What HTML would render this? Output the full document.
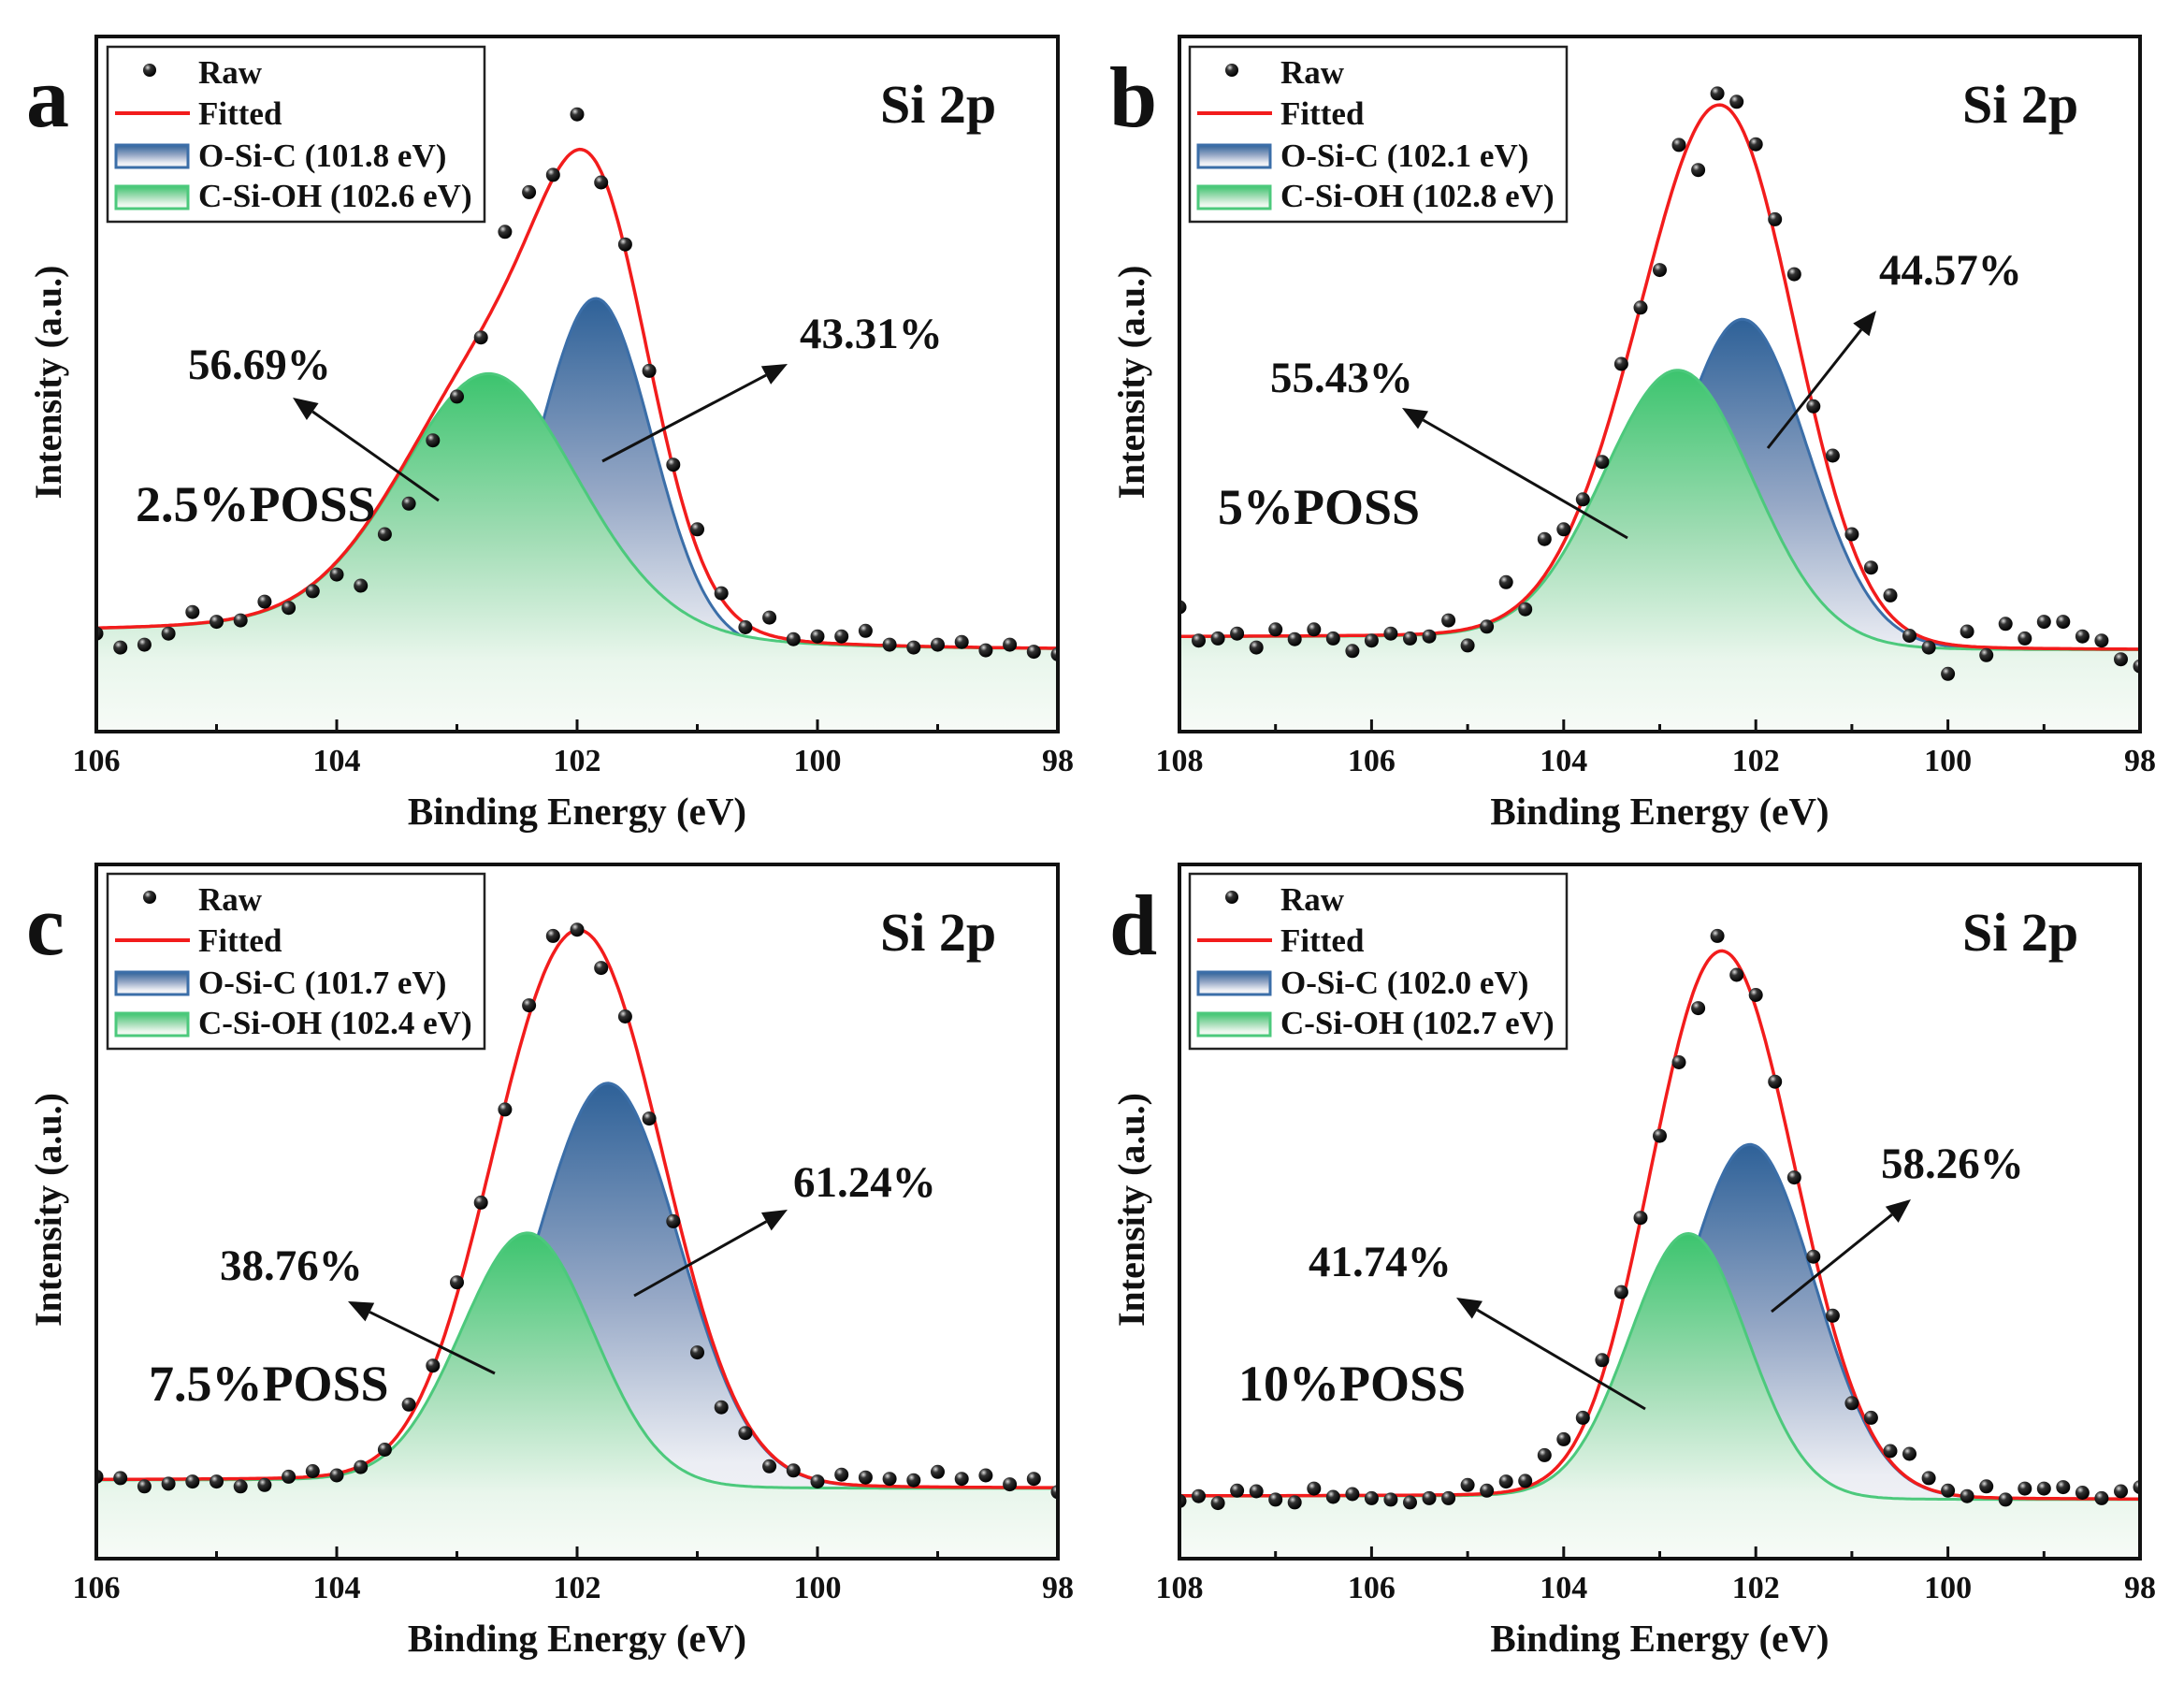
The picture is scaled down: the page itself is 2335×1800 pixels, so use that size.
<!DOCTYPE html>
<html><head><meta charset="utf-8"><style>
html,body{margin:0;padding:0;background:#fff}
svg{display:block}
text{font-family:"Liberation Serif",serif;font-weight:bold;fill:#111}
</style></head><body>
<svg id="fig" width="2335" height="1800" viewBox="0 0 2335 1800" xmlns="http://www.w3.org/2000/svg">
<defs>
<linearGradient id="gGreen" x1="0" y1="0" x2="0" y2="1"><stop offset="0" stop-color="#3cc46e"/><stop offset="0.45" stop-color="#9fdcb3"/><stop offset="0.8" stop-color="#e9f6ec"/><stop offset="1" stop-color="#f7fbf7"/></linearGradient>
<linearGradient id="gBlue" x1="0" y1="0" x2="0" y2="1"><stop offset="0" stop-color="#2e6198"/><stop offset="0.45" stop-color="#96a8c6"/><stop offset="0.8" stop-color="#eceef4"/><stop offset="1" stop-color="#f5f5f8"/></linearGradient>
<radialGradient id="gDot" cx="0.35" cy="0.3" r="0.7"><stop offset="0" stop-color="#ddd"/><stop offset="0.35" stop-color="#333"/><stop offset="1" stop-color="#000"/></radialGradient>
</defs>
<g id="panels"></g>
</svg>
<script>
// ---- data (intensity as % of plot height, energies in eV) ----
const energiesA = [106,105.8,105.6,105.4,105.2,105,104.8,104.6,104.4,104.2,104,103.8,103.6,103.4,103.2,103,102.8,102.6,102.4,102.2,102,101.8,101.6,101.4,101.2,101,100.8,100.6,100.4,100.2,100,99.8,99.6,99.4,99.2,99,98.8,98.6,98.4,98.2,98];
const rawA = [14.1,12.1,12.5,14.1,17.2,15.8,16.0,18.7,17.8,20.2,22.6,21.0,28.4,32.8,41.9,48.2,56.7,71.9,77.6,80.1,88.8,79.0,70.1,51.9,38.4,29.1,19.9,15.0,16.4,13.3,13.7,13.7,14.5,12.5,12.1,12.5,12.9,11.7,12.5,11.5,11.1];
const energiesB = [108,107.8,107.6,107.4,107.2,107,106.8,106.6,106.4,106.2,106,105.8,105.6,105.4,105.2,105,104.8,104.6,104.4,104.2,104,103.8,103.6,103.4,103.2,103,102.8,102.6,102.4,102.2,102,101.8,101.6,101.4,101.2,101,100.8,100.6,100.4,100.2,100,99.8,99.6,99.4,99.2,99,98.8,98.6,98.4,98.2,98];
const rawB = [17.9,13.1,13.4,14.1,12.1,14.7,13.3,14.7,13.4,11.6,13.1,14.1,13.4,13.7,16.0,12.4,15.1,21.5,17.6,27.7,29.1,33.4,38.8,52.9,61.0,66.4,84.4,80.8,91.8,90.6,84.5,73.7,65.8,46.8,39.7,28.4,23.6,19.6,13.8,12.1,8.3,14.4,11.0,15.5,13.4,15.8,15.8,13.7,13.1,10.4,9.4];
const energiesC = energiesA;
const rawC = [11.8,11.6,10.4,10.8,11.1,11.1,10.4,10.6,11.8,12.6,12.0,13.2,15.7,22.2,27.8,39.8,51.3,64.7,79.7,89.7,90.6,85.1,78.1,63.4,48.6,29.7,21.8,18.1,13.3,12.7,11.1,12.1,11.7,11.5,11.3,12.5,11.5,12.0,10.7,11.5,9.6];
const energiesD = energiesB;
const rawD = [8.3,9.0,8.0,9.8,9.7,8.5,8.1,10.1,8.9,9.3,8.7,8.5,8.1,8.7,8.7,10.6,9.8,11.1,11.2,14.9,17.2,20.3,28.6,38.4,49.1,60.9,71.5,79.3,89.7,84.1,81.2,68.7,54.9,43.5,35.0,22.4,20.3,15.5,15.1,11.6,9.8,9.0,10.4,8.5,10.1,10.1,10.3,9.5,8.7,9.7,10.3];
// fit components: [O-Si-C, C-Si-OH]
const centersA = [101.84, 102.72], heightsA = [50, 38], fwhmA = [1.1, 1.8], etaA = [0.05, 0.25], bgA = [14.2, 11.6];
const centersB = [102.13, 102.8], heightsB = [47, 39], fwhmB = [1.6, 1.85], etaB = [0.05, 0.05], bgB = [13.6, 11.7];
const centersC = [101.74, 102.41], heightsC = [58, 36], fwhmC = [1.4, 1.3], etaC = [0.05, 0.03], bgC = [11.3, 10.1];
const centersD = [102.06, 102.7], heightsD = [51, 38], fwhmD = [1.6, 1.45], etaD = [0.04, 0.02], bgD = [9.0, 8.5];
const ticksAC = [106,104,102,100,98];
const ticksBD = [108,106,104,102,100,98];

const panels = [
 {id:'a', L:103, R:1131, T:39, B:782, xl:106, xr:98, E:energiesA, raw:rawA, c:centersA, h:heightsA, w:fwhmA, eta:etaA, bg:bgA, ticks:ticksAC},
 {id:'b', L:1261, R:2288, T:39, B:782, xl:108, xr:98, E:energiesB, raw:rawB, c:centersB, h:heightsB, w:fwhmB, eta:etaB, bg:bgB, ticks:ticksBD},
 {id:'c', L:103, R:1131, T:924, B:1666, xl:106, xr:98, E:energiesC, raw:rawC, c:centersC, h:heightsC, w:fwhmC, eta:etaC, bg:bgC, ticks:ticksAC},
 {id:'d', L:1261, R:2288, T:924, B:1666, xl:108, xr:98, E:energiesD, raw:rawD, c:centersD, h:heightsD, w:fwhmD, eta:etaD, bg:bgD, ticks:ticksBD}
];
const texts = {
 a:{leg:[115,50], pct:[['56.69%',201,405],['43.31%',855,372]], arrows:[[469,535,313,425],[644,493,842,389]], poss:['2.5%POSS',145,557]},
 b:{leg:[1272,50], pct:[['55.43%',1358,419],['44.57%',2009,304]], arrows:[[1740,575,1499,436],[1890,479,2006,332]], poss:['5%POSS',1302,560]},
 c:{leg:[115,934], pct:[['38.76%',235,1368],['61.24%',848,1279]], arrows:[[529,1468,372,1391],[678,1385,842,1293]], poss:['7.5%POSS',159,1497]},
 d:{leg:[1272,934], pct:[['41.74%',1399,1364],['58.26%',2011,1259]], arrows:[[1759,1506,1557,1387],[1894,1402,2043,1282]], poss:['10%POSS',1324,1497]}
};
const legLabels = {a:['O-Si-C (101.8 eV)','C-Si-OH (102.6 eV)'], b:['O-Si-C (102.1 eV)','C-Si-OH (102.8 eV)'], c:['O-Si-C (101.7 eV)','C-Si-OH (102.4 eV)'], d:['O-Si-C (102.0 eV)','C-Si-OH (102.7 eV)']};

const NS='http://www.w3.org/2000/svg';
function mk(tag, attrs, parent){const e=document.createElementNS(NS,tag);for(const k in attrs)e.setAttribute(k,attrs[k]);if(parent)parent.appendChild(e);return e;}
function comp(E,c,h,w,eta){const g=Math.exp(-4*Math.LN2*((E-c)/w)**2);const l=1/(1+4*((E-c)/w)**2);return h*((1-eta)*g+eta*l);}
function bgv(p,E){const c=(p.c[0]+p.c[1])/2;return p.bg[1]+(p.bg[0]-p.bg[1])/(1+Math.exp(-(E-c)/0.45));}

const root=document.getElementById('panels');
panels.forEach(p=>{
 const g=mk('g',{},root);
 
 
 const xs=E=>p.L+(p.xl-E)/(p.xl-p.xr)*(p.R-p.L);
 const ys=v=>p.B-v/100*(p.B-p.T);
 const cp=mk('clipPath',{id:'clip'+p.id},g);
 mk('rect',{x:p.L,y:p.T,width:p.R-p.L,height:p.B-p.T},cp);
 const plot=mk('g',{'clip-path':'url(#clip'+p.id+')'},g);
 const N=400;const pts={blue:[],green:[],red:[]};
 for(let i=0;i<=N;i++){
  const E=p.xl+(p.xr-p.xl)*i/N;const b=bgv(p,E);
  const cb=comp(E,p.c[0],p.h[0],p.w[0],p.eta[0]);const cg=comp(E,p.c[1],p.h[1],p.w[1],p.eta[1]);
  const X=xs(E).toFixed(1);
  pts.blue.push(X+','+ys(b+cb).toFixed(1));pts.green.push(X+','+ys(b+cg).toFixed(1));pts.red.push(X+','+ys(b+cb+cg).toFixed(1));
 }
 const area=a=>'M'+a.join(' L')+' L'+p.R+','+p.B+' L'+p.L+','+p.B+' Z';
 const ba=mk('path',{d:area(pts.blue),fill:'url(#gBlue)'},plot);
 
 
 const bl=mk('path',{d:'M'+pts.blue.join(' L'),fill:'none',stroke:'#3b6ea8','stroke-width':3},plot);
 
 
 const ga=mk('path',{d:area(pts.green),fill:'url(#gGreen)'},plot);
 
 
 const gl=mk('path',{d:'M'+pts.green.join(' L'),fill:'none',stroke:'#4cc97c','stroke-width':3},plot);
 
 
 const rl=mk('path',{d:'M'+pts.red.join(' L'),fill:'none',stroke:'#f21c1c','stroke-width':3.5},plot);
 
 
 p.raw.forEach((v,i)=>{
  const d=mk('circle',{cx:xs(p.E[i]).toFixed(1),cy:ys(v).toFixed(1),r:7.5,fill:'url(#gDot)'},plot);
  
  
 });
 const fr=mk('rect',{x:p.L,y:p.T,width:p.R-p.L,height:p.B-p.T,fill:'none',stroke:'#111','stroke-width':4},g);
 
 
 for(let E=p.xl;E>=p.xr;E-=1){
  const major=p.ticks.indexOf(E)>=0;const X=xs(E);
  mk('line',{x1:X,x2:X,y1:p.B,y2:p.B-(major?13:8),stroke:'#111','stroke-width':3},g);
 }
 p.ticks.forEach(t=>{
  const tl=mk('text',{x:xs(t),y:p.B+42,'text-anchor':'middle','font-size':34},g);
  tl.textContent=t;
  
  
 });
 const xt=mk('text',{x:(p.L+p.R)/2,y:p.B+99,'text-anchor':'middle','font-size':41},g);
 xt.textContent='Binding Energy (eV)';
 
 
 const yx=p.L-38,yy=(p.T+p.B)/2-2;
 const yt=mk('text',{x:yx,y:yy,'text-anchor':'middle','font-size':40,transform:'rotate(-90 '+yx+' '+yy+')'},g);
 yt.textContent='Intensity (a.u.)';
 
 
 const lt=mk('text',{x:p.L-75,y:p.T+96,'font-size':92},g);
 lt.textContent=p.id;
 
 
 const st=mk('text',{x:p.R-190,y:p.T+92,'font-size':58},g);
 st.textContent='Si 2p';
 
 
 const T=texts[p.id];
 const lg=mk('g',{},g);
 
 
 const lx=T.leg[0],ly=T.leg[1];
 mk('rect',{x:lx,y:ly,width:403,height:187,fill:'#fff',stroke:'#222','stroke-width':2.5},lg);
 mk('circle',{cx:lx+45,cy:ly+25,r:7,fill:'url(#gDot)'},lg);
 mk('line',{x1:lx+8,x2:lx+88,y1:ly+71,y2:ly+71,stroke:'#f21c1c','stroke-width':4},lg);
 mk('rect',{x:lx+9,y:ly+105,width:77,height:24,fill:'url(#gBlue)',stroke:'#3b6ea8','stroke-width':3},lg);
 mk('rect',{x:lx+9,y:ly+149,width:77,height:24,fill:'url(#gGreen)',stroke:'#4cc97c','stroke-width':3},lg);
 [['Raw',39],['Fitted',83],[legLabels[p.id][0],128],[legLabels[p.id][1],171]].forEach(r=>{
  const t=mk('text',{x:lx+97,y:ly+r[1],'font-size':35},lg);
  t.textContent=r[0];
  
  
 });
 T.pct.forEach(q=>{
  const t=mk('text',{x:q[1],y:q[2],'font-size':47},g);
  t.textContent=q[0];
  
  
 });
 T.arrows.forEach(a=>{
  const ag=mk('g',{},g);
  
  
  const ang=Math.atan2(a[3]-a[1],a[2]-a[0]);const hl=26,hw=11;
  const bx=a[2]-hl*Math.cos(ang),by=a[3]-hl*Math.sin(ang);
  mk('line',{x1:a[0],y1:a[1],x2:bx,y2:by,stroke:'#111','stroke-width':3},ag);
  const px=-Math.sin(ang)*hw,py=Math.cos(ang)*hw;
  mk('polygon',{points:a[2]+','+a[3]+' '+(bx+px)+','+(by+py)+' '+(bx-px)+','+(by-py),fill:'#111'},ag);
 });
 const pt=mk('text',{x:T.poss[1],y:T.poss[2],'font-size':54},g);
 pt.textContent=T.poss[0];
 
 
});
</script>
</body></html>
